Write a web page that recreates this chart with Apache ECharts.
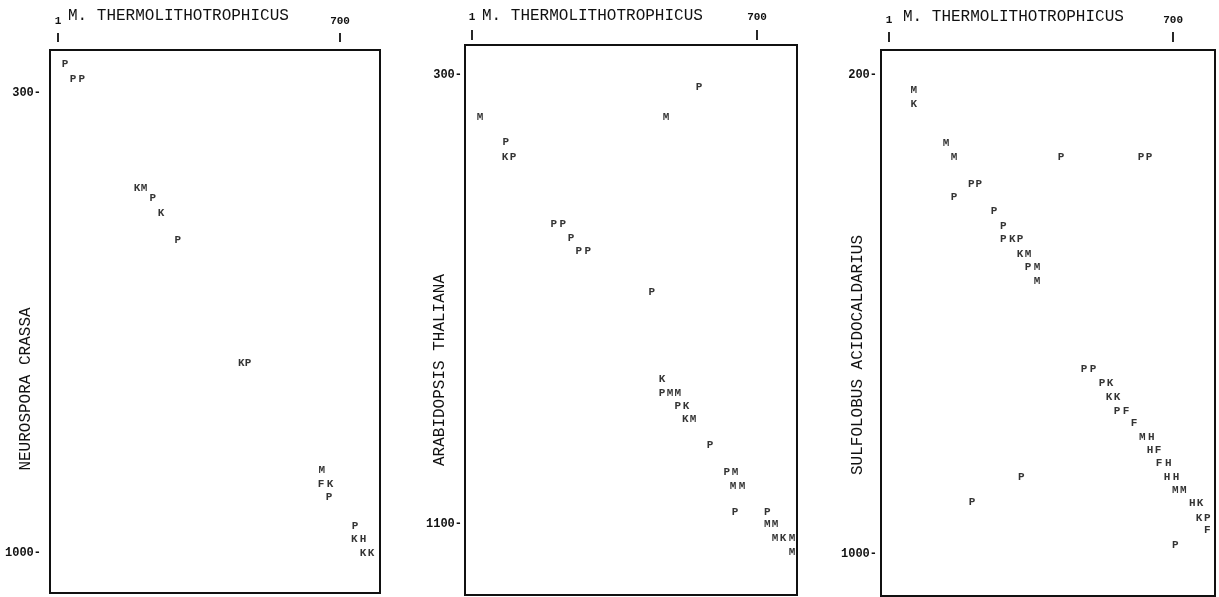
<!DOCTYPE html>
<html>
<head>
<meta charset="utf-8">
<script src="https://cdn.jsdelivr.net/npm/echarts@6/dist/echarts.min.js"></script>
<style>
  html, body { margin: 0; background: #fff; }
  #chart { width: 1219px; height: 597px; }
</style>
</head>
<body>
<div id="chart"></div>
<script>
// shared horizontal axis (M. thermolithotrophicus sequence position)
const xTitle = 'M. THERMOLITHOTROPHICUS'
const xTicks = [1, 700]

// [M. thermolithotrophicus position, other sequence position, residue letter]
const neurospora = [
  [18, 257, 'P'], [38, 279, 'P'], [60, 279, 'P'],
  [197, 445, 'K'], [214, 445, 'M'], [236, 461, 'P'], [256, 484, 'K'], [298, 525, 'P'],
  [455, 711, 'K'], [472, 711, 'P'],
  [655, 875, 'M'], [653, 895, 'F'], [675, 895, 'K'], [673, 915, 'P'],
  [737, 959, 'P'], [735, 979, 'K'], [757, 979, 'H'], [757, 1000, 'K'], [777, 1000, 'K']
]
const neurosporaTicks = [300, 1000]

const arabidopsis = [
  [558, 321, 'P'], [21, 375, 'M'], [477, 375, 'M'],
  [84, 419, 'P'], [82, 446, 'K'], [102, 446, 'P'],
  [202, 566, 'P'], [224, 566, 'P'], [244, 590, 'P'], [263, 614, 'P'], [285, 614, 'P'],
  [442, 687, 'P'],
  [467, 842, 'K'], [467, 867, 'P'], [487, 867, 'M'], [506, 867, 'M'],
  [506, 890, 'P'], [526, 890, 'K'], [524, 913, 'K'], [543, 913, 'M'],
  [585, 959, 'P'], [626, 1007, 'P'], [646, 1007, 'M'], [641, 1032, 'M'], [663, 1032, 'M'],
  [646, 1079, 'P'], [725, 1078, 'P'], [725, 1100, 'M'], [744, 1100, 'M'],
  [744, 1125, 'M'], [764, 1125, 'K'], [786, 1125, 'M'], [786, 1150, 'M']
]
const arabidopsisTicks = [300, 1100]

const sulfolobus = [
  [62, 225, 'M'], [62, 248, 'K'],
  [141, 314, 'M'], [161, 337, 'M'], [424, 337, 'P'], [621, 337, 'P'], [641, 337, 'P'],
  [203, 382, 'P'], [222, 382, 'P'], [161, 404, 'P'],
  [259, 427, 'P'], [282, 452, 'P'], [282, 474, 'P'], [304, 474, 'K'], [323, 474, 'P'],
  [323, 499, 'K'], [343, 499, 'M'], [343, 521, 'P'], [365, 521, 'M'], [365, 544, 'M'],
  [481, 691, 'P'], [503, 691, 'P'], [525, 714, 'P'], [545, 714, 'K'],
  [542, 738, 'K'], [562, 738, 'K'], [562, 761, 'P'], [584, 761, 'F'], [604, 781, 'F'],
  [624, 805, 'M'], [646, 805, 'H'], [643, 826, 'H'], [663, 826, 'F'],
  [665, 848, 'F'], [688, 848, 'H'], [685, 871, 'H'], [707, 871, 'H'],
  [705, 893, 'M'], [725, 893, 'M'], [747, 915, 'H'], [766, 915, 'K'],
  [764, 940, 'K'], [784, 940, 'P'], [784, 960, 'F'], [705, 985, 'P'],
  [326, 871, 'P'], [205, 913, 'P']
]
const sulfolobusTicks = [200, 1000]

const mono = '"Liberation Mono", "DejaVu Sans Mono", monospace'
const ink = '#111'

const panels = [
  {
    name: 'NEUROSPORA CRASSA', data: neurospora, ticks: neurosporaTicks,
    grid: { left: 50, top: 50, width: 330, height: 543 },
    xMin: -19, xMax: 799, yMin: 235, yMax: 1061,
    xOffset: 8, tickLen: 9, xLabelMargin: 15, yLabelMargin: 9,
    titleLeft: 68, titleTop: 8, nameX: 26, nameY: 389
  },
  {
    name: 'ARABIDOPSIS THALIANA', data: arabidopsis, ticks: arabidopsisTicks,
    grid: { left: 465, top: 45, width: 332, height: 550 },
    xMin: -16, xMax: 798, yMin: 246, yMax: 1226,
    xOffset: 5, tickLen: 10, xLabelMargin: 17, yLabelMargin: 3,
    titleLeft: 482, titleTop: 8, nameX: 440, nameY: 370
  },
  {
    name: 'SULFOLOBUS ACIDOCALDARIUS', data: sulfolobus, ticks: sulfolobusTicks,
    grid: { left: 881, top: 50, width: 334, height: 546 },
    xMin: -19, xMax: 803, yMin: 158, yMax: 1070,
    xOffset: 8, tickLen: 10, xLabelMargin: 16, yLabelMargin: 4,
    titleLeft: 903, titleTop: 9, nameX: 858, nameY: 355
  }
]

const chart = echarts.init(document.getElementById('chart'), null, { renderer: 'canvas' })

const option = {
  animation: false,
  backgroundColor: '#fff',
  title: panels.map(p => ({
    text: xTitle,
    left: p.titleLeft,
    top: p.titleTop,
    padding: 0,
    textStyle: { fontFamily: mono, fontSize: 16, fontWeight: 'normal', color: ink }
  })),
  graphic: panels.map(p => ({
    type: 'text',
    x: p.nameX,
    y: p.nameY,
    rotation: Math.PI / 2,
    style: {
      text: p.name,
      font: '16px ' + mono,
      fill: ink,
      align: 'center',
      verticalAlign: 'middle'
    }
  })),
  grid: panels.map(p => ({
    ...p.grid,
    show: true,
    borderColor: ink,
    borderWidth: 2,
    backgroundColor: 'transparent',
    containLabel: false,
    outerBoundsMode: 'none'
  })),
  xAxis: panels.map((p, i) => ({
    type: 'value',
    gridIndex: i,
    position: 'top',
    offset: p.xOffset,
    min: p.xMin,
    max: p.xMax,
    splitLine: { show: false },
    axisLine: { show: false },
    axisTick: {
      show: true,
      customValues: xTicks,
      length: p.tickLen,
      lineStyle: { color: ink, width: 1.8 }
    },
    axisLabel: {
      show: true,
      customValues: xTicks,
      margin: p.xLabelMargin,
      fontFamily: mono,
      fontSize: 11,
      fontWeight: 'bold',
      color: ink
    }
  })),
  yAxis: panels.map((p, i) => ({
    type: 'value',
    gridIndex: i,
    inverse: true,
    min: p.yMin,
    max: p.yMax,
    splitLine: { show: false },
    axisLine: { show: false },
    axisTick: { show: false },
    axisLabel: {
      show: true,
      customValues: p.ticks,
      margin: p.yLabelMargin,
      formatter: v => v + '-',
      fontFamily: mono,
      fontSize: 12,
      fontWeight: 'bold',
      color: ink
    }
  })),
  series: panels.map((p, i) => ({
    type: 'scatter',
    xAxisIndex: i,
    yAxisIndex: i,
    data: p.data,
    symbolSize: 0,
    label: {
      show: true,
      position: 'inside',
      formatter: d => d.value[2],
      fontFamily: mono,
      fontSize: 11,
      fontWeight: 'bold',
      color: '#000'
    },
    labelLayout: { hideOverlap: false }
  }))
}

chart.setOption(option)
</script>
</body>
</html>
